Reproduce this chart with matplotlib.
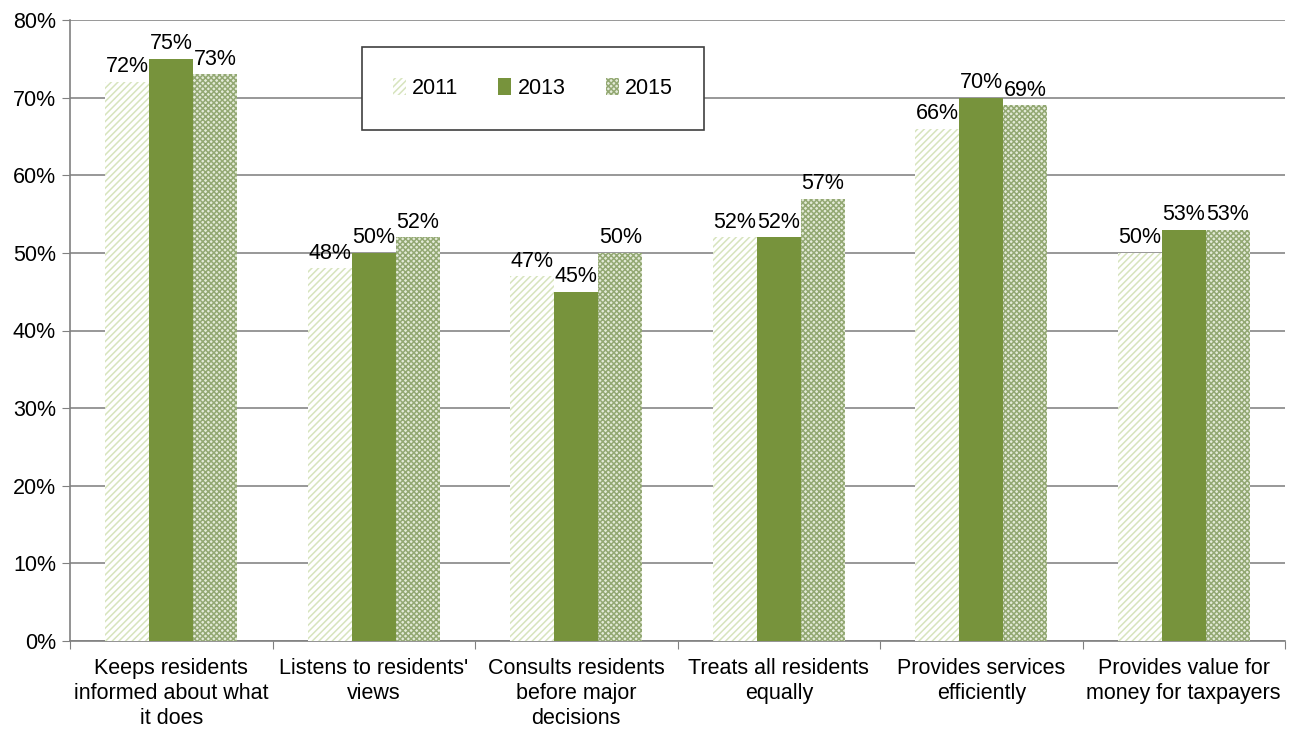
import numpy as np
import matplotlib.pyplot as plt

plt.rcParams['font.family'] = ['Liberation Sans', 'DejaVu Sans']
plt.rcParams['hatch.linewidth'] = 1.1

# Data
categories = ["Keeps residents\ninformed about what\nit does",
              "Listens to residents'\nviews",
              "Consults residents\nbefore major\ndecisions",
              "Treats all residents\nequally",
              "Provides services\nefficiently",
              "Provides value for\nmoney for taxpayers"]
years = ["2011", "2013", "2015"]
v2011 = [72, 48, 47, 52, 66, 50]
v2013 = [75, 50, 45, 52, 70, 53]
v2015 = [73, 52, 50, 57, 69, 53]

fs = 15.5

fig = plt.figure(figsize=(12.98, 7.29), dpi=100)
ax = fig.add_axes([70/1298, 1-641/729, 1215/1298, 621/729])

x = np.arange(len(categories))
w = 0.218

styles = [
    dict(color="white", edgecolor="#d7e4bd", hatch="/////", linewidth=0),
    dict(color="#77933c", edgecolor="#77933c", linewidth=0),
    dict(color="#e4ebd8", edgecolor="#93a873", hatch="xxxxxx", linewidth=0),
]

for i, (vals, yr) in enumerate(zip([v2011, v2013, v2015], years)):
    bars = ax.bar(x + (i - 1) * w, vals, w, label=yr, zorder=3, **styles[i])
    for b, v in zip(bars, vals):
        ax.text(b.get_x() + b.get_width() / 2, v + 0.6, f"{v}%",
                ha="center", va="bottom", fontsize=fs, zorder=4)

ax.set_xlim(-0.5, len(categories) - 0.5)
ax.set_ylim(0, 80)
ax.set_yticks(range(0, 81, 10))
ax.set_yticklabels([f"{t}%" for t in range(0, 81, 10)], fontsize=fs)
ax.set_xticks(np.arange(len(categories) + 1) - 0.5, minor=False)
ax.set_xticklabels([])
ax.set_xticks(x, minor=True)
ax.set_xticklabels(categories, minor=True, fontsize=fs, linespacing=1.25)
ax.tick_params(axis="x", which="minor", length=0, pad=12)
ax.tick_params(axis="x", which="major", length=6, color="#808080")
ax.tick_params(axis="y", length=6, color="#808080", pad=4)

ax.yaxis.grid(True, color="#868686", linewidth=1.2, zorder=0)
ax.set_axisbelow(True)
for s in ["top", "right"]:
    ax.spines[s].set_visible(False)
ax.spines["left"].set_color("#808080")
ax.spines["bottom"].set_color("#808080")
ax.spines["left"].set_linewidth(1.2)
ax.spines["bottom"].set_linewidth(1.2)

leg = ax.legend(loc="center", bbox_to_anchor=(0.24, 0.821, 0.282, 0.137),
                mode="expand", ncol=3, fontsize=fs, fancybox=False,
                handlelength=0.6, handleheight=0.8, handletextpad=0.3,
                borderpad=1.45, borderaxespad=0, framealpha=1)
leg.get_frame().set_edgecolor("#404040")
leg.get_frame().set_linewidth(1.2)

fig.savefig("out.png", dpi=100)
